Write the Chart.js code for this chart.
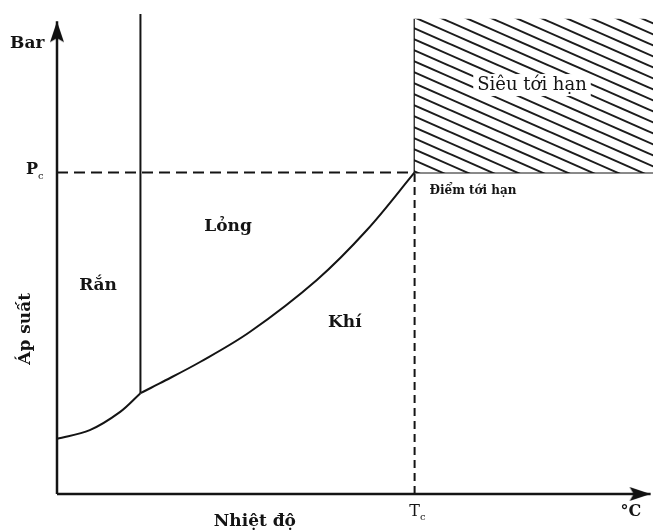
<!DOCTYPE html>
<html>
<head>
<meta charset="utf-8">
<script src="https://cdn.jsdelivr.net/npm/chart.js@4.4.1/dist/chart.umd.min.js"></script>
<style>
  html, body { margin: 0; padding: 0; background: #fff; }
  #wrap { width: 653px; height: 532px; }
</style>
</head>
<body>
<div id="wrap"><canvas id="c" width="653" height="532"></canvas></div>
<script>
// ---- data (temperature units 0..100, pressure units 0..100) ----
const Tc = 60;             // critical temperature
const Pc = 67;             // critical pressure
const sublimationT = [0, 5.5, 10.6, 14];
const sublimationP = [11.5, 13.3, 17.1, 21];
const vaporT = [14, 17.3, 24, 32.4, 43.6, 52, 60];
const vaporP = [21, 23.1, 27.5, 33.8, 44.6, 55, 67];
const meltingT = [14, 14];
const meltingP = [21, 100];
const superTop = 99;       // top of supercritical hatched region
const xAxisEnd = 99.6;
const yAxisEnd = 98.5;

// region / axis labels
const labelTexts = ['Bar', 'Áp suất', 'Rắn', 'Lỏng', 'Khí', 'Siêu tới hạn', 'Điểm tới hạn', 'Nhiệt độ', '°C'];
const labelT =     [-5.0,  -5.2,     6.9,   28.7,   48.3,  79.7,           69.8,           33.2,      96.3];
const labelP =     [93.75, 34.4,     43.5,  55.8,   35.8,  85.2,           63.1,           -5.8,      -3.7];
// tick-like labels with subscript
const tickTexts = [['T', 'c'], ['P', 'c']];
const tickT = [60, -4.2];
const tickP = [-3.7, 67.5];

const pts = (xs, ys) => xs.map((x, i) => ({x: x, y: ys[i]}));

// hatch pattern
function hatchPattern() {
  const tile = document.createElement('canvas');
  tile.width = 50; tile.height = 22;
  const c = tile.getContext('2d');
  c.fillStyle = '#fff'; c.fillRect(0, 0, 50, 22);
  c.strokeStyle = '#1c1c1c'; c.lineWidth = 2;
  for (let x0 = -150; x0 <= 150; x0 += 25) {
    c.beginPath(); c.moveTo(x0 - 50, -22); c.lineTo(x0 + 100, 44); c.stroke();
  }
  return document.getElementById('c').getContext('2d').createPattern(tile, 'repeat');
}

// arrowhead image, tip at image centre
function arrowImg() {
  const a = document.createElement('canvas');
  a.width = 16; a.height = 46;
  const c = a.getContext('2d');
  c.fillStyle = '#111';
  c.beginPath(); c.moveTo(8, 23); c.lineTo(15, 44); c.lineTo(8, 40); c.lineTo(1, 44); c.closePath(); c.fill();
  return a;
}
const arrow = arrowImg();

const BLACK = '#141414';
const textPlugin = {
  id: 'texts',
  afterDatasetsDraw(chart) {
    const ctx = chart.ctx, xs = chart.scales.x, ys = chart.scales.y;
    ctx.save();
    ctx.fillStyle = BLACK;
    ctx.textAlign = 'center';
    ctx.textBaseline = 'middle';
    labelTexts.forEach((t, i) => {
      const px = xs.getPixelForValue(labelT[i]);
      const py = ys.getPixelForValue(labelP[i]);
      ctx.save();
      if (t === 'Siêu tới hạn') {
        ctx.font = '18px "DejaVu Serif"';
        const w = ctx.measureText(t).width;
        ctx.fillStyle = '#fff';
        ctx.fillRect(px - w / 2 - 4, py - 11, w + 8, 22);
        ctx.fillStyle = BLACK;
      } else if (t === 'Điểm tới hạn') {
        ctx.font = 'bold 12px "DejaVu Serif"';
      } else if (t === '°C') {
        ctx.font = 'bold 16px "DejaVu Serif"';
      } else {
        ctx.font = 'bold 17px "DejaVu Serif"';
      }
      ctx.translate(px, py);
      if (t === 'Áp suất') ctx.rotate(-Math.PI / 2);
      ctx.fillText(t, 0, 0);
      ctx.restore();
    });
    tickTexts.forEach((pair, i) => {
      const px = xs.getPixelForValue(tickT[i]);
      const py = ys.getPixelForValue(tickP[i]);
      ctx.font = (i === 1 ? 'bold ' : '') + '16px "DejaVu Serif"';
      ctx.textAlign = 'center';
      ctx.fillText(pair[0], px, py);
      const w = ctx.measureText(pair[0]).width;
      ctx.font = '10px "DejaVu Serif"';
      ctx.textAlign = 'left';
      ctx.fillText(pair[1], px + w / 2, py + 6);
    });
    ctx.restore();
  }
};

const line = (data, extra) => Object.assign({
  data: data, borderColor: BLACK, borderWidth: 2, pointRadius: 0,
  fill: false, tension: 0, clip: false
}, extra || {});

new Chart(document.getElementById('c'), {
  type: 'line',
  data: {
    datasets: [
      // supercritical hatched region
      line(pts([Tc, 100], [superTop, superTop]), {
        borderWidth: 0, borderColor: 'rgba(0,0,0,0)', fill: {value: Pc},
        backgroundColor: hatchPattern(), clip: true
      }),
      line(pts(sublimationT, sublimationP), {tension: 0.35}),
      line(pts(vaporT, vaporP), {tension: 0.35}),
      line(pts(meltingT, meltingP)),
      line(pts([Tc, Tc], [Pc, superTop])),
      line(pts([Tc, 100], [Pc, Pc])),
      line(pts([0, Tc], [Pc, Pc]), {borderDash: [11, 6]}),
      line(pts([Tc, Tc], [0, Pc]), {borderDash: [8, 5]}),
      // axes with arrowheads
      line(pts([0, 0], [0, yAxisEnd]), {
        borderWidth: 2.5, pointStyle: [false, arrow], pointRadius: [0, 8], pointRotation: [0, 0]
      }),
      line(pts([0, xAxisEnd], [0, 0]), {
        borderWidth: 2.5, pointStyle: [false, arrow], pointRadius: [0, 8], pointRotation: [0, 90]
      })
    ]
  },
  options: {
    responsive: false,
    animation: false,
    events: [],
    layout: { autoPadding: false, padding: { left: 57, right: 0, top: 14, bottom: 38 } },
    plugins: { legend: { display: false }, tooltip: { enabled: false }, title: { display: false } },
    scales: {
      x: { type: 'linear', min: 0, max: 100, display: false },
      y: { type: 'linear', min: 0, max: 100, display: false }
    }
  },
  plugins: [textPlugin]
});
</script>
</body>
</html>
